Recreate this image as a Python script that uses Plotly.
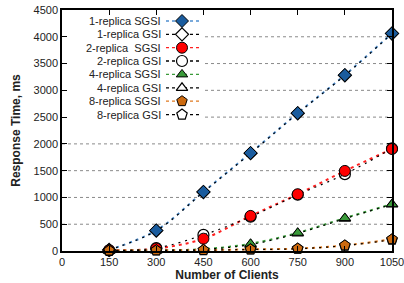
import plotly.graph_objects as go

clients = [150, 300, 450, 600, 750, 900, 1050]
x_ticks = [0, 150, 300, 450, 600, 750, 900, 1050]
y_ticks = [0, 500, 1000, 1500, 2000, 2500, 3000, 3500, 4000, 4500]

r1_sgsi = [20, 385, 1105, 1830, 2575, 3285, 4065]
r1_gsi = [20, 380, 1100, 1825, 2570, 3280, 4060]
r2_sgsi = [12, 45, 230, 655, 1060, 1495, 1905]
r2_gsi = [12, 55, 300, 640, 1050, 1435, 1915]
r4_sgsi = [6, 12, 35, 135, 340, 615, 875]
r4_gsi = [6, 12, 30, 120, 330, 605, 870]
r8_sgsi = [8, 12, 18, 30, 45, 105, 220]
r8_gsi = [6, 10, 15, 28, 42, 100, 210]

labels = ["1-replica SGSI", "1-replica GSI", "2-replica\u00a0 SGSI", "2-replica GSI",
          "4-replica SGSI", "4-replica GSI", "8-replica SGSI", "8-replica GSI"]

series = [
    (labels[0], r1_sgsi, "#1a5c9e", "#4f8fd0", "diamond", True),
    (labels[1], r1_gsi, "white", "black", "diamond", False),
    (labels[2], r2_sgsi, "#ff0000", "#ff2020", "circle", True),
    (labels[3], r2_gsi, "white", "black", "circle", False),
    (labels[4], r4_sgsi, "#3a9a3a", "#3a9a3a", "triangle-up", True),
    (labels[5], r4_gsi, "white", "black", "triangle-up", False),
    (labels[6], r8_sgsi, "#cc6a10", "#e07a20", "pentagon", True),
    (labels[7], r8_gsi, "white", "black", "pentagon", False),
]
sizes = {"diamond": 10, "circle": 11, "triangle-up": 10, "pentagon": 11}
line_order = [0, 2, 4, 6, 1, 3, 5, 7]
marker_order = [1, 0, 3, 2, 5, 4, 7, 6]

fig = go.Figure()
L, R, T, B = 62, 392, 10, 251
FONT = "Liberation Sans, Arial, sans-serif"
BOX_RIGHT, BOX_BOTTOM = 205, 122


def marker(sym, fill, filled):
    if filled:
        return dict(symbol=sym, size=sizes[sym], color=fill, line=dict(color="black", width=1))
    return dict(symbol=sym, size=sizes[sym], color="rgba(255,255,255,0)", line=dict(color="black", width=1.2))


for i in line_order:
    name, ys, fill, lcol, sym, filled = series[i]
    if filled:
        ln = dict(color=lcol, width=2, dash="3px,4px", shape="spline")
    else:
        ln = dict(color="black", width=1.2, dash="2px,5px", shape="spline")
    fig.add_trace(go.Scatter(x=clients, y=ys, mode="lines", line=ln,
                             showlegend=False, hoverinfo="skip", cliponaxis=False))
for i in marker_order:
    name, ys, fill, lcol, sym, filled = series[i]
    fig.add_trace(go.Scatter(x=clients, y=ys, mode="markers", marker=marker(sym, fill, filled),
                             name=name, showlegend=False, cliponaxis=False))

# horizontal dotted grid, interrupted by the legend box
y_max = y_ticks[-1]
for v in y_ticks[1:-1]:
    pix = B - (B - T) * v / y_max
    x0 = (BOX_RIGHT - L) / (R - L) if pix < BOX_BOTTOM else 0
    fig.add_shape(type="line", xref="paper", yref="y", x0=x0, x1=1, y0=v, y1=v,
                  line=dict(color="#8a8a8a", width=1, dash="dot"), layer="below")

# custom legend: text right-aligned, sample to the right
row_y = [21, 34.3, 47.7, 61, 74.4, 87.8, 101.2, 114.6]
for k, (name, ys, fill, lcol, sym, filled) in enumerate(series):
    yp = row_y[k]
    fig.add_trace(go.Scatter(
        x=[166, 199], y=[yp, yp], xaxis="x2", yaxis="y2", mode="lines",
        line=dict(color=lcol if filled else "black", width=1.3, dash="3px,3px"),
        showlegend=False, hoverinfo="skip"))
    mk = marker(sym, fill, filled)
    if not filled:
        mk["color"] = "white"
    fig.add_trace(go.Scatter(x=[182], y=[yp], xaxis="x2", yaxis="y2", mode="markers",
                             marker=mk, showlegend=False, hoverinfo="skip"))
    fig.add_annotation(x=163, y=yp, xref="x2", yref="y2", text=name, showarrow=False,
                       xanchor="right", yanchor="middle",
                       font=dict(family=FONT, size=11, color="#222"))

axis_font = dict(family=FONT, size=11, color="#222")
fig.update_layout(
    width=404, height=283,
    margin=dict(l=L, r=404 - R, t=T, b=283 - B),
    paper_bgcolor="white", plot_bgcolor="white",
    font=axis_font,
    xaxis=dict(range=[0, 1050], tickvals=x_ticks, ticktext=[str(v) for v in x_ticks],
               ticks="inside", ticklen=5, tickcolor="black", showgrid=False, zeroline=False,
               showline=True, linecolor="black", linewidth=1.5, mirror="ticks", automargin=False,
               ticklabeloverflow="allow",
               title=dict(text="<b>Number of Clients</b>", standoff=4,
                          font=dict(family=FONT, size=12, color="#222"))),
    yaxis=dict(range=[0, 4500], tickvals=y_ticks, ticktext=[str(v) for v in y_ticks],
               ticks="inside", ticklen=5, tickcolor="black", showgrid=False,
               zeroline=False, automargin=False, ticklabeloverflow="allow",
               showline=True, linecolor="black", linewidth=1.5, mirror="ticks",
               title=dict(text="<b>Response Time, ms</b>", standoff=10,
                          font=dict(family=FONT, size=12, color="#222"))),
    xaxis2=dict(overlaying="x", range=[L, R], visible=False, fixedrange=True),
    yaxis2=dict(overlaying="y", range=[B, T], visible=False, fixedrange=True),
    showlegend=False,
)

fig.write_html("out.html", config={"displayModeBar": False},
               post_script="document.body.style.margin='0';")
